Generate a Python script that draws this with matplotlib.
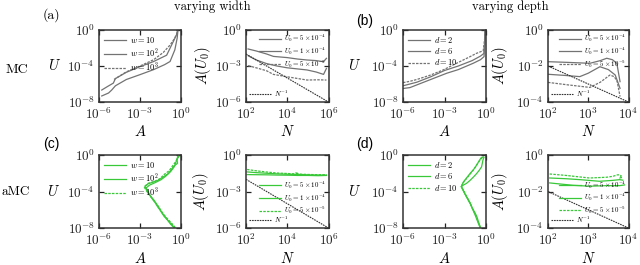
import numpy as np
import matplotlib
matplotlib.use("Agg")
import matplotlib.pyplot as plt
from matplotlib.ticker import NullLocator

plt.rcParams['font.family'] = 'serif'
plt.rcParams['font.serif'] = ['cmr10', 'DejaVu Serif']
plt.rcParams['mathtext.fontset'] = 'cm'
plt.rcParams['axes.unicode_minus'] = False

GRAY = '0.45'
GREEN = '#38c838'

# ---- data (log10 values) ----
# (a) MC, varying width: U vs A
a_w10_logA = [-5.8, -5.3, -5.07, -4.8, -4.0, -3.0, -2.0, -1.2, -0.8, -0.45, -0.28, -0.22]
a_w10_logU = [-7.33, -7.0, -6.67, -6.2, -5.5, -4.96, -4.4, -3.85, -3.5, -2.2, -0.9, 0.0]
a_w100_logA = [-5.8, -5.4, -4.95, -4.8, -4.0, -3.0, -2.0, -1.05, -0.57, -0.33, -0.25]
a_w100_logU = [-6.67, -6.3, -5.9, -5.4, -4.7, -4.07, -3.5, -2.8, -1.3, -0.55, 0.0]
a_w1000_logA = [-4.9, -4.0, -3.0, -2.0, -1.3, -0.8, -0.5, -0.3, -0.25]
a_w1000_logU = [-5.5, -4.65, -4.0, -3.3, -2.5, -1.67, -1.0, -0.4, 0.0]

# (a) MC, varying width: A(U0) vs N
a_n_hi_logN = [2.1, 2.5, 3.0, 3.33, 4.0, 4.5, 4.96, 5.4, 5.76, 5.9]
a_n_hi_logA = [-1.58, -1.75, -2.0, -2.2, -2.3, -2.42, -2.5, -2.55, -2.64, -2.36]
a_n_mid_logN = [2.1, 2.5, 3.0, 3.5, 4.0, 4.96, 5.4, 5.76, 5.9]
a_n_mid_logA = [-2.14, -2.5, -2.8, -3.0, -3.15, -3.33, -3.5, -3.7, -3.2]
a_n_lo_logN = [2.1, 2.6, 3.0, 3.33, 4.0, 4.96, 5.5, 5.9]
a_n_lo_logA = [-2.97, -3.2, -3.4, -3.7, -3.9, -4.17, -4.15, -4.17]
a_ref_N = [1e2, 1e6]
a_ref_A = [1e-2, 1e-6]

# (b) MC, varying depth: U vs A
b_d2_logA = [-6.0, -5.5, -5.0, -4.0, -2.83, -2.0, -0.93, -0.4, -0.14, -0.1, -0.07]
b_d2_logU = [-6.5, -6.4, -6.1, -5.5, -4.8, -4.4, -3.7, -3.3, -2.96, -1.5, 0.0]
b_d6_logA = [-6.0, -5.5, -5.0, -4.0, -3.0, -2.0, -1.0, -0.4, -0.15, -0.1, -0.07]
b_d6_logU = [-6.2, -6.0, -5.8, -5.2, -4.5, -4.0, -3.4, -2.9, -2.6, -1.6, 0.0]
b_d10_logA = [-6.0, -5.5, -5.0, -4.0, -3.1, -2.0, -1.2, -0.7, -0.2, -0.1, -0.07]
b_d10_logU = [-5.85, -5.7, -5.5, -5.0, -4.44, -3.6, -3.0, -2.6, -2.3, -1.0, 0.0]

# (b) MC, varying depth: A(U0) vs N
b_n_hi_logN = [2.0, 2.5, 3.04, 3.3, 3.46, 3.6, 3.71, 3.79]
b_n_hi_logA = [-1.76, -1.8, -1.85, -1.7, -1.57, -1.65, -1.85, -2.87]
b_n_mid_logN = [2.0, 2.4, 2.79, 3.0, 3.29, 3.5, 3.67, 3.79]
b_n_mid_logA = [-2.46, -2.52, -2.59, -2.4, -2.04, -2.2, -2.5, -3.24]
b_n_lo_logN = [2.0, 2.5, 3.04, 3.3, 3.54, 3.65, 3.72, 3.79]
b_n_lo_logA = [-2.91, -3.05, -3.19, -2.9, -2.5, -2.6, -2.87, -3.7]
b_ref_N = [1e2, 1e4]
b_ref_A = [1e-2, 1e-4]

# (c) aMC, varying width: U vs A
c_w10_logA = [-0.14, -0.3, -0.25, -0.58, -0.7, -0.94, -1.3, -1.67, -2.1, -2.4, -2.64, -2.5, -2.28, -2.0, -1.79, -1.6, -1.42, -1.2, -0.94, -0.7, -0.45]
c_w10_logU = [-0.11, -0.5, -0.9, -1.3, -1.6, -2.04, -2.4, -2.78, -3.0, -3.15, -3.44, -3.9, -4.44, -4.9, -5.37, -5.8, -6.3, -6.7, -7.2, -7.6, -8.0]
c_w100_logA = [-0.2, -0.35, -0.5, -0.75, -1.1, -1.45, -1.85, -2.3, -2.55, -2.35, -2.15, -1.9, -1.7, -1.45, -1.25, -1.0, -0.75, -0.5]
c_w100_logU = [0.0, -0.7, -1.3, -1.8, -2.3, -2.7, -3.0, -3.3, -3.6, -4.2, -4.7, -5.2, -5.7, -6.2, -6.7, -7.1, -7.6, -8.0]
c_w1000_logA = [-0.15, -0.28, -0.42, -0.62, -0.85, -1.2, -1.55, -1.95, -2.4, -2.7, -2.45, -2.2, -1.95, -1.7, -1.5, -1.3, -1.05, -0.8, -0.55, -0.4]
c_w1000_logU = [-0.05, -0.45, -0.8, -1.2, -1.7, -2.1, -2.6, -2.9, -3.1, -3.5, -4.1, -4.6, -5.1, -5.55, -6.0, -6.45, -6.9, -7.3, -7.7, -8.0]

# (c) aMC, varying width: A(U0) vs N
c_n_logN = [2.05, 2.5, 3.0, 3.5, 4.0, 4.5, 5.0, 5.5, 5.9]
c_n_hi_logA = [-1.39, -1.45, -1.5, -1.55, -1.58, -1.6, -1.63, -1.65, -1.66]
c_n_mid_logA = [-1.61, -1.62, -1.63, -1.65, -1.66, -1.68, -1.68, -1.7, -1.68]
c_n_lo_logN = [2.05, 2.5, 3.0, 3.5, 4.0, 4.3, 4.42, 4.55, 4.5, 4.4, 4.7, 5.0, 5.5, 5.9]
c_n_lo_logA = [-1.19, -1.3, -1.4, -1.48, -1.52, -1.55, -1.47, -1.52, -1.6, -1.55, -1.58, -1.6, -1.62, -1.62]
c_ref_N = [1e2, 1e6]
c_ref_A = [1e-2, 1e-6]

# (d) aMC, varying depth: U vs A
d_d2_logA = [-0.15, -0.22, -0.32, -0.5, -0.68, -0.9, -1.16, -1.4, -1.64, -1.8, -1.65, -1.52, -1.35, -1.16, -1.0, -0.8, -0.65, -0.56, -0.39]
d_d2_logU = [-0.26, -0.56, -1.3, -1.7, -2.04, -2.4, -2.79, -3.1, -3.3, -3.46, -3.9, -4.28, -4.7, -5.2, -5.8, -6.32, -6.8, -7.25, -8.0]
d_d6_logA = [-0.2, -0.35, -0.48, -0.68, -0.9, -1.16, -1.4, -1.64, -1.78, -1.62, -1.48, -1.3, -1.12, -0.95, -0.78, -0.6, -0.42]
d_d6_logU = [-0.2, -0.3, -0.6, -1.1, -1.6, -2.04, -2.5, -2.97, -3.45, -3.95, -4.4, -4.9, -5.4, -6.0, -6.6, -7.3, -8.0]
d_d10_logA = [-0.25, -0.4, -0.55, -0.75, -1.0, -1.25, -1.5, -1.72, -1.76, -1.58, -1.42, -1.25, -1.08, -0.9, -0.72, -0.55, -0.4]
d_d10_logU = [-0.25, -0.5, -0.8, -1.3, -1.8, -2.3, -2.75, -3.2, -3.5, -4.0, -4.5, -5.0, -5.5, -6.1, -6.7, -7.4, -8.0]

# (d) aMC, varying depth: A(U0) vs N
d_n_hi_logN = [2.04, 2.45, 2.79, 3.28, 3.61, 3.78, 3.86]
d_n_hi_logA = [-1.26, -1.3, -1.35, -1.44, -1.39, -1.35, -1.38]
d_n_mid_logN = [2.04, 2.62, 3.03, 3.45, 3.78, 3.9]
d_n_mid_logA = [-1.53, -1.66, -1.71, -1.68, -1.68, -1.64]
d_n_lo_logN = [2.04, 2.45, 3.03, 3.45, 3.61, 3.74, 3.82, 3.78, 3.86]
d_n_lo_logA = [-1.04, -1.12, -1.26, -1.22, -1.17, -1.08, -1.14, -1.26, -1.22]
d_ref_N = [1e2, 1e4]
d_ref_A = [1e-2, 1e-4]

u0_labels = [r'$U_0 = 5\times10^{-4}$', r'$U_0 = 1\times10^{-4}$', r'$U_0 = 5\times10^{-5}$']


def p(v):
    return 10.0 ** np.asarray(v)


def style_axes(ax, xlim, ylim, xticks, yticks, xlabels, ylabels):
    ax.set_xscale('log')
    ax.set_yscale('log')
    ax.set_xlim(*xlim)
    ax.set_ylim(*ylim)
    ax.set_xticks(xticks)
    ax.set_xticklabels(xlabels)
    ax.set_yticks(yticks)
    ax.set_yticklabels(ylabels)
    ax.xaxis.set_minor_locator(NullLocator())
    ax.yaxis.set_minor_locator(NullLocator())
    ax.tick_params(direction='in', top=True, right=True, length=3.5, width=0.9,
                   labelsize=9.5, pad=3, colors='#222222')
    for s in ax.spines.values():
        s.set_linewidth(1.1)
        s.set_color('#333333')


def u_axes(ax, lx):
    style_axes(ax, (1e-6, 1e0), (1e-8, 1e0), [1e-6, 1e-3, 1e0], [1e-8, 1e-4, 1e0],
               [r'$10^{-6}$', r'$10^{-3}$', r'$10^{0}$'],
               [r'$10^{-8}$', r'$10^{-4}$', r'$10^{0}$'])
    ax.set_xlabel(r'$A$', fontsize=10.5, va='top')
    ax.xaxis.set_label_coords(0.5, -0.31)
    ax.set_ylabel(r'$U$', fontsize=10.5, rotation=0, va='center')
    ax.yaxis.set_label_coords(lx, 0.5)


def n_axes(ax, wide, lx):
    if wide:
        style_axes(ax, (1e2, 1e6), (1e-6, 1e0), [1e2, 1e4, 1e6], [1e-6, 1e-3, 1e0],
                   [r'$10^{2}$', r'$10^{4}$', r'$10^{6}$'],
                   [r'$10^{-6}$', r'$10^{-3}$', r'$10^{0}$'])
    else:
        style_axes(ax, (1e2, 1e4), (1e-4, 1e0), [1e2, 1e3, 1e4], [1e-4, 1e-2, 1e0],
                   [r'$10^{2}$', r'$10^{3}$', r'$10^{4}$'],
                   [r'$10^{-4}$', r'$10^{-2}$', r'$10^{0}$'])
    ax.set_xlabel(r'$N$', fontsize=10.5, va='top')
    ax.xaxis.set_label_coords(0.5, -0.31)
    ax.set_ylabel(r'$A(U_0)$', fontsize=10.5, va='center')
    ax.yaxis.set_label_coords(lx, 0.5)


def n_legends(ax, lines, ref, loc, anchor):
    leg = ax.legend(lines, u0_labels, loc=loc, bbox_to_anchor=anchor, fontsize=5,
                    frameon=False, handlelength=3.2, handletextpad=0.4,
                    labelspacing=0.2, borderaxespad=0.2, borderpad=0.2)
    ax.add_artist(leg)
    ax.legend([ref], [r'$N^{-1}$'], loc='lower left', fontsize=5, frameon=False,
              handlelength=3.2, handletextpad=0.4, borderaxespad=0.25, borderpad=0.2)


fig = plt.figure(figsize=(6.4, 2.65), dpi=100)
W, H = 640.0, 265.0


def add_ax(x0, x1, y0, y1):
    return fig.add_axes([x0 / W, 1 - y1 / H, (x1 - x0) / W, (y1 - y0) / H])


ax_a1 = add_ax(99, 181, 30, 102)
ax_a2 = add_ax(246, 328.5, 30, 102)
ax_b1 = add_ax(403, 486, 30, 102)
ax_b2 = add_ax(548, 628.5, 30, 102)
ax_c1 = add_ax(99, 181, 155, 228)
ax_c2 = add_ax(246, 328.5, 155, 228)
ax_d1 = add_ax(403, 486, 155, 228)
ax_d2 = add_ax(548, 628.5, 155, 228)

lw = 0.9
dash = (0, (2, 1))

# (a)
u_axes(ax_a1, -0.54)
l1, = ax_a1.plot(p(a_w10_logA), p(a_w10_logU), color=GRAY, lw=lw)
l2, = ax_a1.plot(p(a_w100_logA), p(a_w100_logU), color=GRAY, lw=lw)
l3, = ax_a1.plot(p(a_w1000_logA), p(a_w1000_logU), color=GRAY, lw=lw, ls=dash)
ax_a1.legend([l1, l2, l3], [r'$w = 10$', r'$w = 10^2$', r'$w = 10^3$'], loc='upper left',
             fontsize=6, frameon=False, handlelength=2.6, handletextpad=0.5,
             labelspacing=0.15, borderaxespad=0.2)

n_axes(ax_a2, True, -0.52)
m1, = ax_a2.plot(p(a_n_hi_logN), p(a_n_hi_logA), color=GRAY, lw=lw)
m2, = ax_a2.plot(p(a_n_mid_logN), p(a_n_mid_logA), color=GRAY, lw=lw)
m3, = ax_a2.plot(p(a_n_lo_logN), p(a_n_lo_logA), color=GRAY, lw=lw, ls=dash)
r, = ax_a2.plot(a_ref_N, a_ref_A, color='#333333', lw=0.8, ls=(0, (1.5, 0.8)))
n_legends(ax_a2, [m1, m2, m3], r, 'upper right', (1.0, 1.0))

# (b)
u_axes(ax_b1, -0.58)
l1, = ax_b1.plot(p(b_d2_logA), p(b_d2_logU), color=GRAY, lw=lw)
l2, = ax_b1.plot(p(b_d6_logA), p(b_d6_logU), color=GRAY, lw=lw)
l3, = ax_b1.plot(p(b_d10_logA), p(b_d10_logU), color=GRAY, lw=lw, ls=dash)
ax_b1.legend([l1, l2, l3], [r'$d = 2$', r'$d = 6$', r'$d = 10$'], loc='upper left',
             fontsize=6, frameon=False, handlelength=2.6, handletextpad=0.5,
             labelspacing=0.15, borderaxespad=0.2)

n_axes(ax_b2, False, -0.6)
m1, = ax_b2.plot(p(b_n_hi_logN), p(b_n_hi_logA), color=GRAY, lw=lw)
m2, = ax_b2.plot(p(b_n_mid_logN), p(b_n_mid_logA), color=GRAY, lw=lw)
m3, = ax_b2.plot(p(b_n_lo_logN), p(b_n_lo_logA), color=GRAY, lw=lw, ls=dash)
r, = ax_b2.plot(b_ref_N, b_ref_A, color='#333333', lw=0.8, ls=(0, (1.5, 0.8)))
n_legends(ax_b2, [m1, m2, m3], r, 'upper right', (1.0, 1.0))

# (c)
u_axes(ax_c1, -0.56)
l1, = ax_c1.plot(p(c_w10_logA), p(c_w10_logU), color=GREEN, lw=lw)
l2, = ax_c1.plot(p(c_w100_logA), p(c_w100_logU), color=GREEN, lw=lw)
l3, = ax_c1.plot(p(c_w1000_logA), p(c_w1000_logU), color=GREEN, lw=lw, ls=dash)
ax_c1.legend([l1, l2, l3], [r'$w = 10$', r'$w = 10^2$', r'$w = 10^3$'], loc='upper left',
             fontsize=6, frameon=False, handlelength=2.6, handletextpad=0.5,
             labelspacing=0.15, borderaxespad=0.2)

n_axes(ax_c2, True, -0.54)
m1, = ax_c2.plot(p(c_n_logN), p(c_n_hi_logA), color=GREEN, lw=lw)
m2, = ax_c2.plot(p(c_n_logN), p(c_n_mid_logA), color=GREEN, lw=lw)
m3, = ax_c2.plot(p(c_n_lo_logN), p(c_n_lo_logA), color=GREEN, lw=lw, ls=dash)
r, = ax_c2.plot(c_ref_N, c_ref_A, color='#333333', lw=0.8, ls=(0, (1.5, 0.8)))
n_legends(ax_c2, [m1, m2, m3], r, 'center right', (1.0, 0.41))

# (d)
u_axes(ax_d1, -0.58)
l1, = ax_d1.plot(p(d_d2_logA), p(d_d2_logU), color=GREEN, lw=lw)
l2, = ax_d1.plot(p(d_d6_logA), p(d_d6_logU), color=GREEN, lw=lw)
l3, = ax_d1.plot(p(d_d10_logA), p(d_d10_logU), color=GREEN, lw=lw, ls=dash)
ax_d1.legend([l1, l2, l3], [r'$d = 2$', r'$d = 6$', r'$d = 10$'], loc='upper left',
             fontsize=6, frameon=False, handlelength=2.6, handletextpad=0.5,
             labelspacing=0.15, borderaxespad=0.2)

n_axes(ax_d2, False, -0.6)
m1, = ax_d2.plot(p(d_n_hi_logN), p(d_n_hi_logA), color=GREEN, lw=lw)
m2, = ax_d2.plot(p(d_n_mid_logN), p(d_n_mid_logA), color=GREEN, lw=lw)
m3, = ax_d2.plot(p(d_n_lo_logN), p(d_n_lo_logA), color=GREEN, lw=lw, ls=dash)
r, = ax_d2.plot(d_ref_N, d_ref_A, color='#333333', lw=0.8, ls=(0, (1.5, 0.8)))
n_legends(ax_d2, [m1, m2, m3], r, 'center right', (1.0, 0.415))

# labels and titles
fig.text(51.7 / W, 1 - 15 / H, '(a)', fontsize=10, ha='center', va='center')
fig.text(365 / W, 1 - 21 / H, '(b)', fontsize=10, ha='center', va='center', family='Liberation Sans')
fig.text(51.7 / W, 1 - 144 / H, '(c)', fontsize=10, ha='center', va='center', family='Liberation Sans')
fig.text(365 / W, 1 - 144 / H, '(d)', fontsize=10, ha='center', va='center', family='Liberation Sans')
fig.text(17 / W, 1 - 70 / H, 'MC', fontsize=10, ha='center', va='center')
fig.text(1 / W, 1 - 192 / H, 'aMC', fontsize=9.5, ha='left', va='center')
fig.text(212 / W, 1 - 7 / H, 'varying width', fontsize=9, ha='center', va='center')
fig.text(510 / W, 1 - 7 / H, 'varying depth', fontsize=9, ha='center', va='center')

fig.savefig('out.png', dpi=100)
